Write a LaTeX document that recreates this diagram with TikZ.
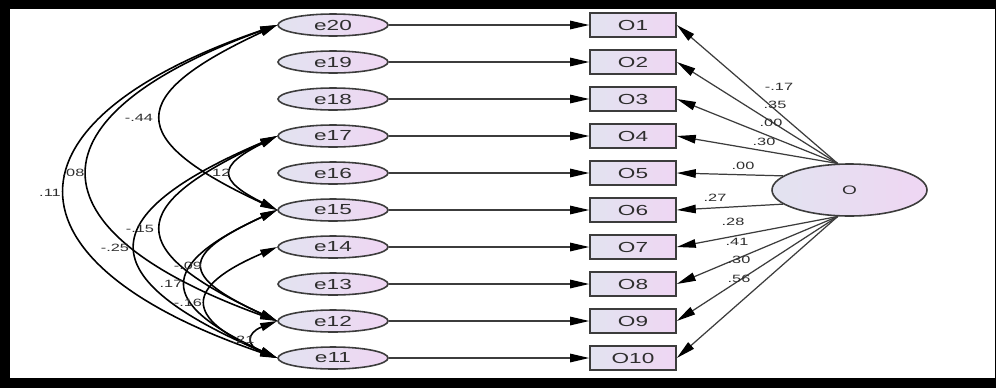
\documentclass[tikz,border=0pt]{standalone}
\usepackage{fontspec}
\setmainfont{Liberation Sans}[FakeStretch=1.55]
\usetikzlibrary{arrows.meta,positioning,shapes.geometric}
\definecolor{errleft}{HTML}{E2E3F0}
\definecolor{errright}{HTML}{EFD6F3}
\definecolor{rimgray}{HTML}{3C3C3C}
\definecolor{inkgray}{HTML}{2E2E2E}

\begin{document}
\begin{tikzpicture}[
  node distance=7.4mm and 60mm, on grid,
  err/.style={ellipse,draw=rimgray,line width=0.9pt,left color=errleft,right color=errright,
    minimum width=2.2cm,minimum height=0.44cm,inner sep=0pt,font=\fontsize{8.3}{9}\selectfont,text=inkgray},
  obs/.style={rectangle,draw=rimgray,line width=0.9pt,left color=errleft,right color=errright,
    minimum width=1.72cm,minimum height=0.48cm,inner sep=0pt,font=\fontsize{8.3}{9}\selectfont,text=inkgray},
  latent/.style={err,minimum width=3.1cm,minimum height=1.04cm,font=\fontsize{7}{8}\selectfont},
  regarrow/.style={-{Triangle[length=3.8mm,width=1.7mm,black]},line width=0.7pt,draw=rimgray},
  covarrow/.style={{Triangle[length=3.4mm,width=1.6mm]}-{Triangle[length=3.4mm,width=1.6mm]},line width=0.9pt},
  coef/.style={font=\fontsize{6}{7}\selectfont,text=inkgray,inner sep=1pt}
]
\useasboundingbox (0,0) rectangle (19.92,-7.76);
% frame
\fill[black] (0,0) rectangle (19.92,-7.76);
\fill[white] (0.2,-0.18) rectangle (19.89,-7.56);

% error terms
\node[err] (e20) at (6.66,-0.5) {e20};
\node[err,below=of e20] (e19) {e19};
\node[err,below=of e19] (e18) {e18};
\node[err,below=of e18] (e17) {e17};
\node[err,below=of e17] (e16) {e16};
\node[err,below=of e16] (e15) {e15};
\node[err,below=of e15] (e14) {e14};
\node[err,below=of e14] (e13) {e13};
\node[err,below=of e13] (e12) {e12};
\node[err,below=of e12] (e11) {e11};

% observed items
\node[obs,right=of e20] (o1) {O1};
\node[obs,right=of e19] (o2) {O2};
\node[obs,right=of e18] (o3) {O3};
\node[obs,right=of e17] (o4) {O4};
\node[obs,right=of e16] (o5) {O5};
\node[obs,right=of e15] (o6) {O6};
\node[obs,right=of e14] (o7) {O7};
\node[obs,right=of e13] (o8) {O8};
\node[obs,right=of e12] (o9) {O9};
\node[obs,right=of e11] (o10) {O10};

\node[latent] (fac) at (16.99,-3.8) {O};

\draw[regarrow] (e20) -- (o1);
\draw[regarrow] (e19) -- (o2);
\draw[regarrow] (e18) -- (o3);
\draw[regarrow] (e17) -- (o4);
\draw[regarrow] (e16) -- (o5);
\draw[regarrow] (e15) -- (o6);
\draw[regarrow] (e14) -- (o7);
\draw[regarrow] (e13) -- (o8);
\draw[regarrow] (e12) -- (o9);
\draw[regarrow] (e11) -- (o10);

\draw[regarrow] (fac.114) -- (o1.east);
\draw[regarrow] (fac.114) -- (o2.east);
\draw[regarrow] (fac.114) -- (o3.east);
\draw[regarrow] (fac.114) -- (o4.east);
\draw[regarrow] (fac.168) -- (o5.east);
\draw[regarrow] (fac.192) -- (o6.east);
\draw[regarrow] (fac.246) -- (o7.east);
\draw[regarrow] (fac.246) -- (o8.east);
\draw[regarrow] (fac.246) -- (o9.east);
\draw[regarrow] (fac.246) -- (o10.east);

\node[coef] (l1) at (15.58,-1.74) {-.17};
\node[coef] (l2) at (15.50,-2.10) {.35};
\node[coef] (l3) at (15.42,-2.46) {.00};
\node[coef] (l4) at (15.28,-2.84) {.30};
\node[coef] (l5) at (14.86,-3.32) {.00};
\node[coef] (l6) at (14.30,-3.96) {.27};
\node[coef] (l7) at (14.66,-4.44) {.28};
\node[coef] (l8) at (14.74,-4.84) {.41};
\node[coef] (l9) at (14.78,-5.20) {.30};
\node[coef] (l10) at (14.78,-5.58) {.56};

% error covariances
\draw[covarrow] (e20.west) .. controls +(-3.06,-1.42) and +(-3.06,1.42) .. (e15.west);
\draw[covarrow] (e20.west) .. controls +(-5.02,-1.82) and +(-5.02,1.82) .. (e12.west);
\draw[covarrow] (e20.west) .. controls +(-5.62,-1.92) and +(-5.62,1.92) .. (e11.west);
\draw[covarrow] (e17.west) .. controls +(-1.2,-0.6) and +(-1.2,0.6) .. (e15.west);
\draw[covarrow] (e17.west) .. controls +(-3.06,-1.42) and +(-3.06,1.42) .. (e12.west);
\draw[covarrow] (e17.west) .. controls +(-3.74,-1.6) and +(-3.74,1.6) .. (e11.west);
\draw[covarrow] (e15.west) .. controls +(-1.95,-0.9) and +(-1.95,0.9) .. (e12.west);
\draw[covarrow] (e15.west) .. controls +(-2.4,-1.1) and +(-2.4,1.1) .. (e11.west);
\draw[covarrow] (e14.west) .. controls +(-1.87,-0.8) and +(-1.87,0.8) .. (e11.west);
\draw[covarrow] (e12.west) .. controls +(-0.62,-0.24) and +(-0.62,0.24) .. (e11.west);

\node[coef] (c1) at (2.78,-2.36) {-.44};
\node[coef] (c2) at (1.46,-3.46) {.08};
\node[coef] (c3) at (1.00,-3.86) {.11};
\node[coef] (c4) at (4.38,-3.46) {.12};
\node[coef] (c5) at (2.80,-4.58) {-.15};
\node[coef] (c6) at (2.30,-4.96) {-.25};
\node[coef] (c7) at (3.76,-5.32) {-.09};
\node[coef] (c8) at (3.42,-5.68) {.17};
\node[coef] (c9) at (3.76,-6.06) {-.16};
\node[coef] (c10) at (4.86,-6.80) {.21};
\end{tikzpicture}
\end{document}
